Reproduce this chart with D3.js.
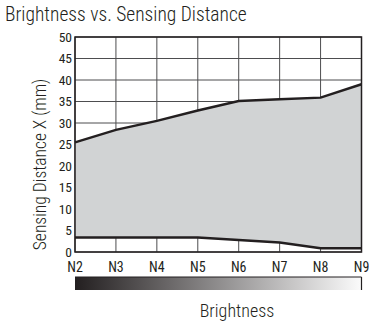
<!DOCTYPE html>
<html lang="en">
<head>
<meta charset="utf-8">
<title>brightness_vs_distance</title>
<script src="https://d3js.org/d3.v7.min.js"></script>
<style>
  body { margin: 0; background: #fff; }
  .lbl { font-family: "Roboto Condensed", "Liberation Sans", sans-serif; font-weight: 300; fill: #231f20; }
  .tick { font-family: "Roboto Condensed", "Liberation Sans", sans-serif; font-weight: 400; fill: #231f20; }
</style>
</head>
<body>
<div id="chart"></div>
<script>
var width = 369, height = 322;

// data
var levels = ["N2", "N3", "N4", "N5", "N6", "N7", "N8", "N9"];
var upperDist = [25.5, 28.4, 30.5, 32.9, 35.1, 35.5, 35.9, 39.0];
var lowerDist = [3.4, 3.4, 3.4, 3.4, 2.8, 2.2, 0.9, 0.9];
var yTicks = [0, 5, 10, 15, 20, 25, 30, 35, 40, 45, 50];

var plotL = 75, plotR = 361.5, plotT = 37, plotB = 252;

var svg = d3.select("#chart").append("svg")
    .attr("width", width)
    .attr("height", height);

var x = d3.scalePoint().domain(levels).range([plotL, plotR]);
var y = d3.scaleLinear().domain([0, 50]).range([plotB, plotT]);

// grid
svg.append("g").selectAll("line").data(levels).enter().append("line")
    .attr("x1", function(d) { return x(d); }).attr("x2", function(d) { return x(d); })
    .attr("y1", plotT).attr("y2", plotB)
    .attr("stroke", "#4d4d4f").attr("stroke-width", 1);

svg.append("g").selectAll("line").data(yTicks).enter().append("line")
    .attr("x1", plotL).attr("x2", plotR)
    .attr("y1", function(d) { return y(d); }).attr("y2", function(d) { return y(d); })
    .attr("stroke", "#4d4d4f").attr("stroke-width", 1);

var rows = levels.map(function(d, i) { return { k: d, lo: lowerDist[i], hi: upperDist[i] }; });

var area = d3.area()
    .x(function(d) { return x(d.k); })
    .y0(function(d) { return y(d.lo); })
    .y1(function(d) { return y(d.hi); });

svg.append("path").datum(rows)
    .attr("d", area)
    .attr("fill", "#d1d3d4");

var upLine = d3.line().x(function(d) { return x(d.k); }).y(function(d) { return y(d.hi); });
var loLine = d3.line().x(function(d) { return x(d.k); }).y(function(d) { return y(d.lo); });

svg.append("path").datum(rows).attr("d", upLine)
    .attr("fill", "none").attr("stroke", "#231f20").attr("stroke-width", 2.5);
svg.append("path").datum(rows).attr("d", loLine)
    .attr("fill", "none").attr("stroke", "#231f20").attr("stroke-width", 2.5);

// frame
svg.append("rect")
    .attr("x", plotL).attr("y", plotT)
    .attr("width", plotR - plotL).attr("height", plotB - plotT)
    .attr("fill", "none").attr("stroke", "#231f20").attr("stroke-width", 1.5);

// y tick labels
svg.append("g").selectAll("text").data(yTicks).enter().append("text")
    .attr("class", "tick")
    .attr("x", plotL - 3)
    .attr("y", function(d) { return y(d); })
    .attr("dy", "0.36em")
    .attr("text-anchor", "end")
    .attr("font-size", 13.5)
    .text(function(d) { return d; });

// x tick labels
svg.append("g").selectAll("text").data(levels).enter().append("text")
    .attr("class", "tick")
    .attr("x", function(d) { return x(d); })
    .attr("y", 272)
    .attr("text-anchor", "middle")
    .attr("font-size", 14)
    .text(function(d) { return d; });

// brightness gradient bar
var grad = svg.append("defs").append("linearGradient")
    .attr("id", "bright").attr("x1", "0%").attr("x2", "100%");
grad.append("stop").attr("offset", "0%").attr("stop-color", "#231f20");
grad.append("stop").attr("offset", "100%").attr("stop-color", "#fbfbfb");

svg.append("rect")
    .attr("x", plotL).attr("y", 277)
    .attr("width", plotR - plotL).attr("height", 13)
    .attr("fill", "url(#bright)");
svg.append("line")
    .attr("x1", plotL).attr("x2", plotR).attr("y1", 277).attr("y2", 277)
    .attr("stroke", "#231f20").attr("stroke-width", 1);
svg.append("line")
    .attr("x1", plotR).attr("x2", plotR).attr("y1", 277).attr("y2", 290)
    .attr("stroke", "#231f20").attr("stroke-width", 1.2);

// titles
svg.append("text")
    .attr("class", "lbl")
    .attr("x", 5).attr("y", 21)
    .attr("font-size", 19.5)
    .text("Brightness vs. Sensing Distance");

svg.append("text")
    .attr("class", "lbl")
    .attr("transform", "translate(46," + ((plotT + plotB) / 2 + 20) + ") rotate(-90)")
    .attr("text-anchor", "middle")
    .attr("font-size", 17.5)
    .text("Sensing Distance X (mm)");

svg.append("text")
    .attr("class", "lbl")
    .attr("x", 237).attr("y", 317)
    .attr("text-anchor", "middle")
    .attr("font-size", 18)
    .text("Brightness");
</script>
</body>
</html>
